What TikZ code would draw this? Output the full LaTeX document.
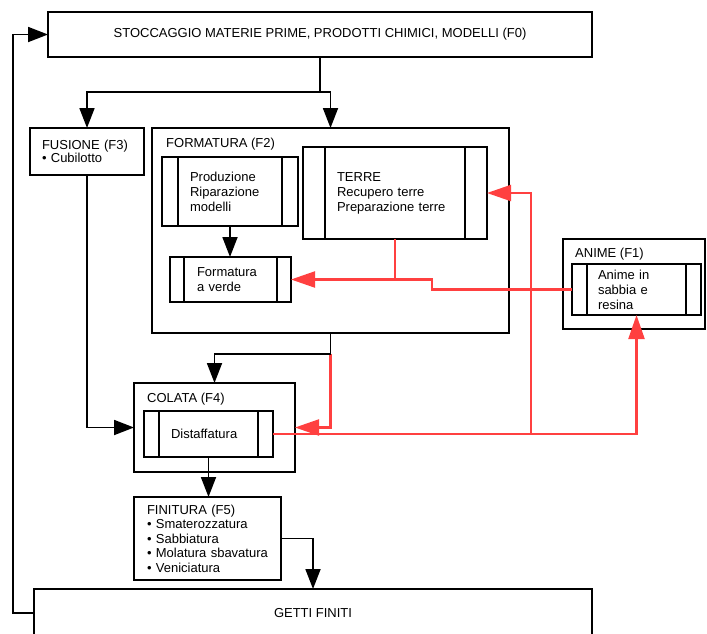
\documentclass[tikz,border=0pt]{standalone}
\usepackage{fontspec}
\setmainfont{Liberation Sans}
\usetikzlibrary{arrows.meta,bending}
\definecolor{flowred}{RGB}{255,64,64}

\tikzset{
  box/.style={draw, line width=1.5pt, anchor=north west, inner sep=0pt, outer sep=0pt},
  proc/.style={box, line width=1.3pt, align=left, path picture={
      \draw[line width=1.3pt] ([xshift=#1]path picture bounding box.north west)
        -- ([xshift=#1]path picture bounding box.south west);
      \draw[line width=1.3pt] ([xshift=-#1]path picture bounding box.north east)
        -- ([xshift=-#1]path picture bounding box.south east);}},
  proc/.default=15pt,
  title/.style={anchor=base west, inner sep=0pt},
  flow/.style={line width=1.8pt, -{Triangle[length=20pt,width=15pt]}},
  back/.style={flowred, line width=2.2pt, -{Triangle[length=24pt,width=16pt]}},
}

\begin{document}
\begin{tikzpicture}[x=1pt, y=-1pt, font=\fontsize{13}{15}\selectfont]
  \useasboundingbox (0,0) rectangle (707,633);
  \clip (0,0) rectangle (707,633);

  % storage and finished castings
  \node[box, minimum width=544pt, minimum height=45pt] (f0) at (48,12)
    {STOCCAGGIO MATERIE PRIME, PRODOTTI CHIMICI, MODELLI (F0)};
  \node[box, minimum width=558pt, minimum height=48pt] (getti) at (34,589) {GETTI FINITI};

  % melting
  \node[box, minimum width=114pt, minimum height=47pt, text width=90pt, inner xsep=12pt,
    align=left, font=\fontsize{13}{13.5}\selectfont] (f3) at (30,128) {FUSIONE (F3)\\• Cubilotto};

  % moulding
  \node[box, minimum width=357pt, minimum height=205pt] (f2) at (152,128) {};
  \node[title] (f2t) at (166,147) {FORMATURA (F2)};
  \node[proc=16pt, minimum width=136pt, minimum height=69pt, text width=80pt, inner xsep=28pt]
    (prod) at (162,157) {Produzione\\Riparazione\\modelli};
  \node[proc=22pt, minimum width=184pt, minimum height=92pt, text width=116pt, inner xsep=34pt]
    (terre) at (303,147) {TERRE\\Recupero terre\\Preparazione terre};
  \node[proc=14pt, minimum width=121pt, minimum height=45pt, text width=67pt, inner xsep=27pt]
    (verde) at (170,257) {Formatura\\a verde};

  % cores
  \node[box, minimum width=142pt, minimum height=90pt] (f1) at (563,239) {};
  \node[title] (f1t) at (575,257) {ANIME (F1)};
  \node[proc, minimum width=129pt, minimum height=51pt, text width=77pt, inner xsep=26pt]
    (anime) at (572,264) {Anime in\\sabbia e\\resina};

  % casting
  \node[box, minimum width=161pt, minimum height=89pt] (f4) at (134,383) {};
  \node[title] (f4t) at (147,402) {COLATA (F4)};
  \node[proc, minimum width=129pt, minimum height=46pt, text width=75pt, inner xsep=27pt]
    (dist) at (144,411) {Distaffatura};

  % finishing
  \node[box, minimum width=147pt, minimum height=83pt, text width=121pt, inner xsep=13pt,
    align=left, font=\fontsize{13}{14.5}\selectfont] (f5) at (134,497)
    {FINITURA (F5)\\• Smaterozzatura\\• Sabbiatura\\• Molatura sbavatura\\• Veniciatura};

  \coordinate (split) at (320,92);
  \coordinate (fork) at (331,354);
  \coordinate (jog) at (432,0);
  \coordinate (riser) at (531,0);
  \coordinate (loop) at (13,0);

  % returns (red)
  \draw[back] (terre.south) |- (verde.east);
  \draw[back, -] (anime.west) -- (anime.west -| jog) |- (terre.south |- verde.east);
  \draw[back] (dist.east) -| (anime.south);
  \draw[back] (dist.east -| riser) |- (terre.east);
  \draw[back] (f2.south |- fork) |- (f4.east);

  % main flow
  \draw[flow] (f0.south) -- (split) -| (f3.north);
  \draw[flow] (split) -| (f2.north);
  \draw[flow] (prod.south) -- (prod.south |- verde.north);
  \draw[flow] (f2.south) -- (f2.south |- fork) -| (f4.north);
  \draw[flow] (f3.south) |- (f4.west);
  \draw[flow] (dist.south) -- (dist.south |- f5.north);
  \draw[flow] (f5.east) -| (getti.north);
  \draw[flow] (getti.west) -- (getti.west -| loop) |- (f0.west);
\end{tikzpicture}
\end{document}
